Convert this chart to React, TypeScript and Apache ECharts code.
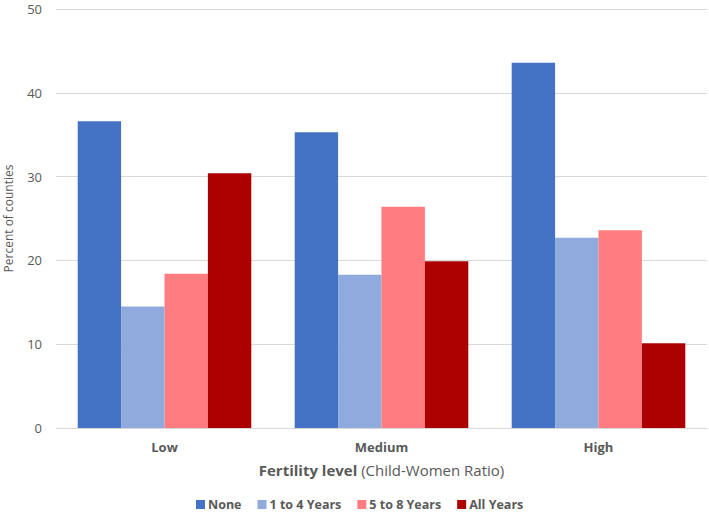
import React, { useEffect, useRef } from "react";
import * as echarts from "echarts";

const categories = ["Low", "Medium", "High"];
const seriesNames = ["None", "1 to 4 Years", "5 to 8 Years", "All Years"];
const noneValues = [36.6, 35.3, 43.6];
const oneToFourValues = [14.5, 18.3, 22.7];
const fiveToEightValues = [18.4, 26.4, 23.6];
const allYearsValues = [30.4, 19.9, 10.1];
const colors = ["#4472C4", "#8FAADC", "#FF7C80", "#AD0000"];

export default function App() {
  const ref = useRef<HTMLDivElement>(null);
  useEffect(() => {
    if (!ref.current) return;
    const chart = echarts.init(ref.current, undefined, { renderer: "svg" });
    const font = "'Open Sans', 'Noto Sans', sans-serif";
    const values = [noneValues, oneToFourValues, fiveToEightValues, allYearsValues];
    chart.setOption({
      animation: false,
      textStyle: { fontFamily: font },
      grid: { left: 56, right: 2, top: 9, bottom: 86, containLabel: false, outerBoundsMode: "none" },
      legend: {
        bottom: -2,
        left: 191,
        icon: "rect",
        itemWidth: 9,
        itemHeight: 9,
        itemGap: 16,
        textStyle: { color: "#595959", fontSize: 12.5, fontWeight: "bold", fontFamily: font, padding: [0, 0, 0, -2] },
        data: seriesNames,
      },
      xAxis: {
        type: "category",
        data: categories,
        axisLine: { show: true, lineStyle: { color: "#D9D9D9", width: 1 } },
        axisTick: { show: false },
        axisLabel: { color: "#595959", fontSize: 13, fontWeight: "bold", margin: 12, fontFamily: font },
        name: "{b|Fertility level} (Child-Women Ratio)",
        nameLocation: "middle",
        nameGap: 34,
        nameTextStyle: {
          color: "#595959",
          fontSize: 15,
          fontFamily: font,
          rich: { b: { fontWeight: "bold", fontSize: 15, color: "#595959", fontFamily: font } },
        },
      },
      yAxis: {
        type: "value",
        min: 0,
        max: 50,
        interval: 10,
        axisLine: { show: false },
        axisTick: { show: false },
        splitLine: { lineStyle: { color: "#D9D9D9", width: 1 } },
        axisLabel: { color: "#595959", fontSize: 13, margin: 14, fontFamily: font },
        name: "Percent of counties",
        nameLocation: "middle",
        nameGap: 42,
        nameTextStyle: { color: "#595959", fontSize: 12, fontFamily: font },
      },
      series: seriesNames.map((n, i) => ({
        name: n,
        type: "bar",
        data: values[i],
        barGap: "0%",
        barCategoryGap: "20%",
        itemStyle: { color: colors[i] },
      })),
    });
    return () => chart.dispose();
  }, []);
  return (
    <div
      ref={ref}
      style={{ position: "fixed", left: 0, top: 0, width: 709, height: 514, background: "#fff" }}
    />
  );
}
